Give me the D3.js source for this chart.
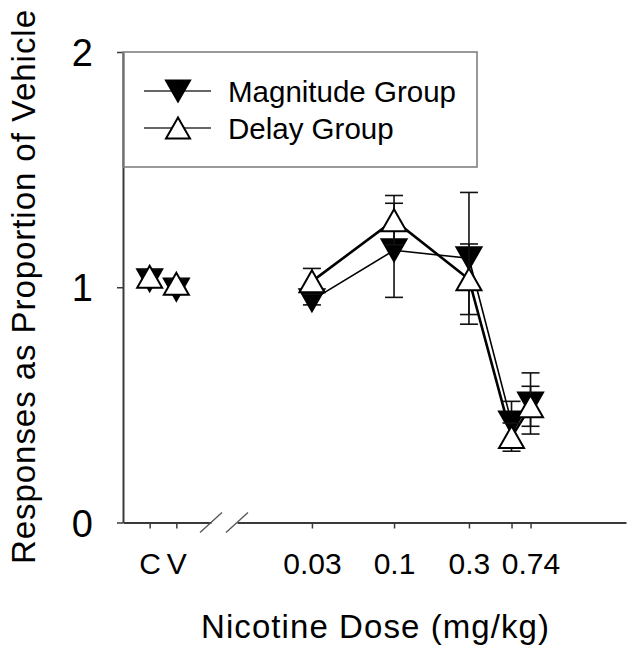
<!DOCTYPE html>
<html>
<head>
<meta charset="utf-8">
<script src="https://cdn.jsdelivr.net/npm/d3@7"></script>
<style>
  body { margin: 0; background: #fff; }
  text { font-family: "Liberation Sans", Arial, sans-serif; fill: #000; }
</style>
</head>
<body>
<div id="chart"></div>
<script>
// Data
const ctrlLabels = ["C", "V"];
const ctrlPos = [1, 2];
const magCtrlMean = [1.03, 0.99];
const magCtrlSem = [0.03, 0.02];
const delayCtrlMean = [1.045, 1.015];
const delayCtrlSem = [0.03, 0.02];

const doses = [0.03, 0.1, 0.3, 0.56, 0.74];
const doseLabels = ["0.03", "0.1", "0.3", "", "0.74"];
const magMean = [0.945, 1.157, 1.123, 0.425, 0.506];
const magSem = [0.02, 0.20, 0.28, 0.09, 0.13];
const delayMean = [1.025, 1.285, 1.034, 0.363, 0.494];
const delaySem = [0.055, 0.105, 0.15, 0.06, 0.085];

const yTicks = [0, 1, 2];

const width = 634, height = 655;
const axisX = 123, axisY = 522.5;

const svg = d3.select("#chart").append("svg")
  .attr("width", width)
  .attr("height", height);

// Scales
const y = d3.scaleLinear().domain([0, 2]).range([axisY, 52]);
const xCtrl = d3.scaleLinear().domain([0, 3.3]).range([axisX, 211]);
const xDose = d3.scaleLog().domain([0.01, 3]).range([237, 626]);

const axisColor = "#3a3a3a";

// Y-axis
const yAxis = svg.append("g")
  .attr("transform", `translate(${axisX},0)`)
  .call(d3.axisLeft(y).tickValues(yTicks).tickSize(6).tickSizeOuter(0).tickFormat(d3.format("d")));
yAxis.select(".domain").attr("stroke", axisColor).attr("stroke-width", 2);
yAxis.selectAll(".tick line").attr("stroke", axisColor).attr("stroke-width", 1.5);
yAxis.selectAll(".tick text")
  .attr("x", -30)
  .attr("dy", "0.36em")
  .style("font-size", "38px")
  .style("font-family", "'Liberation Sans', Arial, sans-serif")
  .attr("fill", "#000");

// X-axis, control part
const xa1 = svg.append("g")
  .attr("transform", `translate(0,${axisY})`)
  .call(d3.axisBottom(xCtrl).tickValues(ctrlPos).tickSize(6).tickSizeOuter(0)
    .tickFormat((d, i) => ctrlLabels[i]));

// X-axis, dose part
const xa2 = svg.append("g")
  .attr("transform", `translate(0,${axisY})`)
  .call(d3.axisBottom(xDose).tickValues(doses).tickSize(6).tickSizeOuter(0)
    .tickFormat((d, i) => doseLabels[i]));

[xa1, xa2].forEach(g => {
  g.select(".domain").attr("stroke", axisColor).attr("stroke-width", 2);
  g.selectAll(".tick line").attr("stroke", axisColor).attr("stroke-width", 1.5);
  g.selectAll(".tick text")
    .attr("y", 51)
    .attr("dy", 0)
    .style("font-size", "30px")
    .style("font-family", "'Liberation Sans', Arial, sans-serif")
    .attr("fill", "#000");
});

// Axis break marks
[xCtrl.range()[1], xDose.range()[0]].forEach(bx => {
  svg.append("line")
    .attr("x1", bx - 11).attr("y1", axisY + 10)
    .attr("x2", bx + 11).attr("y2", axisY - 10)
    .attr("stroke", "#555").attr("stroke-width", 1.3);
});

// Axis titles
svg.append("text")
  .attr("transform", "translate(35,287) rotate(-90)")
  .attr("text-anchor", "middle")
  .attr("textLength", 554)
  .style("font-size", "33px")
  .text("Responses as Proportion of Vehicle");

svg.append("text")
  .attr("x", 375)
  .attr("y", 638)
  .attr("text-anchor", "middle")
  .attr("textLength", 348)
  .style("font-size", "33px")
  .text("Nicotine Dose (mg/kg)");

// Marker shape: triangle centered on its bounding box
function tri(cx, cy, w, h, down) {
  const s = down ? 1 : -1;
  return `M${cx - w / 2},${cy - s * h / 2}L${cx + w / 2},${cy - s * h / 2}L${cx},${cy + s * h / 2}Z`;
}

const capW = 18;
function drawSeries(xs, means, sems, down, connect, lineW) {
  const g = svg.append("g");
  const pts = means.map((m, i) => ({ x: xs[i], m: m, s: sems[i] }));

  if (connect) {
    g.append("path")
      .attr("fill", "none")
      .attr("stroke", "#000")
      .attr("stroke-width", lineW)
      .attr("d", d3.line().x(d => d.x).y(d => y(d.m))(pts));
  }

  // Error bars
  pts.forEach(d => {
    const top = y(d.m + d.s), bot = y(d.m - d.s);
    g.append("line").attr("x1", d.x).attr("x2", d.x).attr("y1", top).attr("y2", bot)
      .attr("stroke", "#111").attr("stroke-width", 1.6);
    [top, bot].forEach(yy => {
      g.append("line").attr("x1", d.x - capW / 2).attr("x2", d.x + capW / 2)
        .attr("y1", yy).attr("y2", yy)
        .attr("stroke", "#111").attr("stroke-width", 1.6);
    });
  });

  // Symbols
  g.selectAll("path.sym")
    .data(pts)
    .join("path")
    .attr("class", "sym")
    .attr("d", d => tri(d.x, y(d.m), 25, 22, down))
    .attr("fill", down ? "#000" : "#fff")
    .attr("stroke", "#000")
    .attr("stroke-width", 2);
}

const ctrlX = ctrlPos.map(d => xCtrl(d));
const doseX = doses.map(d => xDose(d));

drawSeries(ctrlX, magCtrlMean, magCtrlSem, true, false, 1.6);
drawSeries(doseX, magMean, magSem, true, true, 1.6);
drawSeries(ctrlX, delayCtrlMean, delayCtrlSem, false, false, 2.6);
drawSeries(doseX, delayMean, delaySem, false, true, 2.6);

// Legend
const legend = svg.append("g");
legend.append("rect")
  .attr("x", axisX).attr("y", 52)
  .attr("width", 477 - axisX).attr("height", 167 - 52)
  .attr("fill", "none")
  .attr("stroke", "#808080")
  .attr("stroke-width", 1.6);

const legendItems = [
  { label: "Magnitude Group", down: true, y: 91 },
  { label: "Delay Group", down: false, y: 128 }
];
legendItems.forEach(it => {
  legend.append("line")
    .attr("x1", 144).attr("x2", 211)
    .attr("y1", it.y).attr("y2", it.y)
    .attr("stroke", "#333").attr("stroke-width", 1.5);
  legend.append("path")
    .attr("d", tri(178, it.y, 24, 21, it.down))
    .attr("fill", it.down ? "#000" : "#fff")
    .attr("stroke", "#000")
    .attr("stroke-width", 2);
  legend.append("text")
    .attr("x", 228)
    .attr("y", it.y + 10.5)
    .style("font-size", "29.5px")
    .text(it.label);
});
</script>
</body>
</html>
